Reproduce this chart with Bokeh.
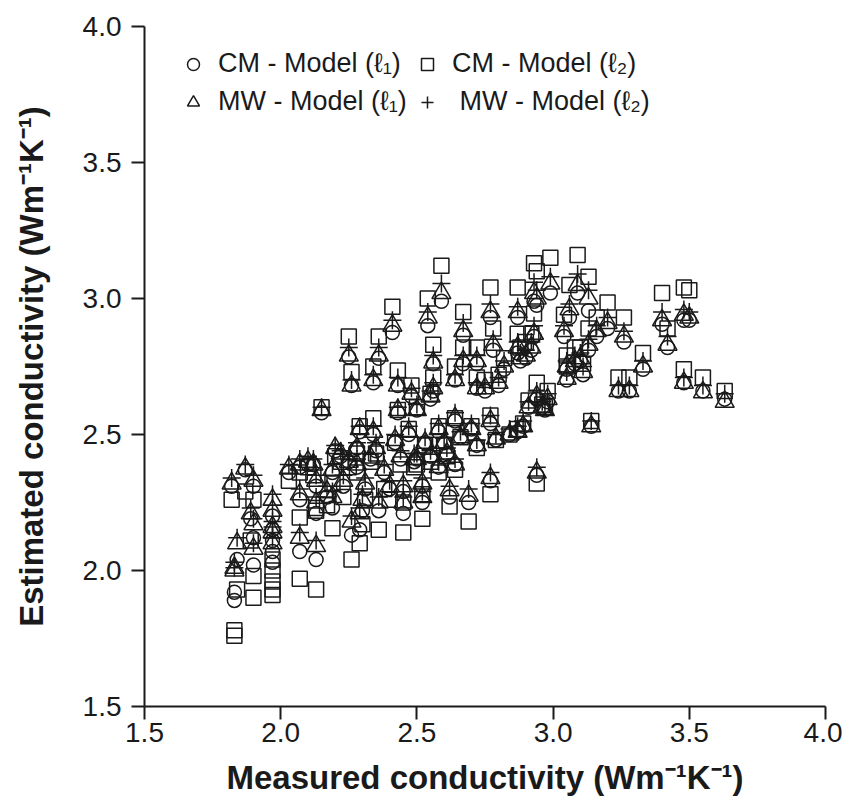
from bokeh.plotting import figure
from bokeh.models import Range1d, FixedTicker, PrintfTickFormatter, Legend, LegendItem
from bokeh.embed import file_html
from bokeh.resources import INLINE

# Measured conductivity (x) and the four model estimates per sample
measured = [1.82, 1.83, 1.83, 1.84, 1.87, 1.90, 1.89, 1.90, 1.90, 1.97, 1.97, 1.97, 1.97, 1.97,
            2.03, 2.07, 2.07, 2.13, 2.10, 2.12, 2.13, 2.13, 2.15, 2.19, 2.20, 2.22, 2.25, 2.26,
            2.26, 2.29, 2.29, 2.25, 2.28, 2.34, 2.36, 2.34, 2.36, 2.33, 2.38, 2.41, 2.43, 2.43,
            2.45, 2.44, 2.47, 2.48, 2.49, 2.45, 2.52, 2.52, 2.54, 2.56, 2.56, 2.55, 2.53, 2.58,
            2.59, 2.58, 2.60, 2.62, 2.64, 2.64, 2.64, 2.66, 2.67, 2.67, 2.69, 2.70, 2.72, 2.72,
            2.72, 2.75, 2.77, 2.77, 2.77, 2.78, 2.79, 2.80, 2.82, 2.84, 2.87, 2.87, 2.87, 2.89,
            2.90, 2.91, 2.93, 2.93, 2.94, 2.94, 2.94, 2.96, 2.98, 2.99, 2.97, 3.04, 3.05, 3.05,
            3.06, 3.08, 3.09, 3.10, 3.13, 3.13, 3.14, 3.16, 3.20, 3.24, 3.26, 3.28, 3.33, 3.40,
            3.42, 3.48, 3.50, 3.48, 3.55, 3.63, 2.19, 2.23, 2.31, 2.40, 2.50, 2.55, 2.61, 2.28,
            2.35, 2.42, 2.17, 2.07, 2.30, 2.50, 2.88, 2.92, 3.11]

cm_l1 = [2.31, 1.89, 1.92, 2.04, 2.37, 2.31, 2.19, 2.12, 2.02, 2.20, 2.15, 2.11, 2.07, 2.03,
         2.36, 2.26, 2.07, 2.04, 2.39, 2.39, 2.31, 2.21, 2.58, 2.23, 2.44, 2.42, 2.785, 2.68,
         2.13, 2.15, 2.51, 2.40, 2.38, 2.69, 2.78, 2.50, 2.22, 2.41, 2.36, 2.875, 2.68, 2.58,
         2.21, 2.41, 2.50, 2.64, 2.40, 2.29, 2.25, 2.31, 2.90, 2.76, 2.66, 2.63, 2.47, 2.51,
         2.99, 2.38, 2.47, 2.27, 2.70, 2.55, 2.39, 2.49, 2.865, 2.76, 2.25, 2.52, 2.46, 2.76,
         2.67, 2.66, 2.93, 2.54, 2.33, 2.81, 2.48, 2.68, 2.74, 2.50, 2.93, 2.80, 2.51, 2.53,
         2.78, 2.60, 2.99, 2.86, 2.975, 2.35, 2.63, 2.60, 2.62, 3.02, 2.59, 2.86, 2.70, 2.74,
         2.93, 2.76, 3.02, 2.77, 2.955, 2.81, 2.53, 2.86, 2.89, 2.66, 2.84, 2.66, 2.74, 2.905,
         2.82, 2.92, 2.92, 2.69, 2.66, 2.63, 2.36, 2.31, 2.30, 2.30, 2.41, 2.42, 2.43, 2.45,
         2.44, 2.47, 2.27, 2.38, 2.22, 2.59, 2.77, 2.81, 2.72]

cm_l2 = [2.26, 1.78, 1.76, 1.93, 2.29, 2.26, 2.11, 1.98, 1.90, 2.04, 2.00, 1.96, 1.93, 1.91,
         2.33, 2.195, 1.97, 1.93, 2.38, 2.35, 2.23, 2.22, 2.60, 2.155, 2.42, 2.40, 2.86, 2.73,
         2.04, 2.10, 2.53, 2.38, 2.36, 2.75, 2.86, 2.56, 2.15, 2.40, 2.30, 2.97, 2.735, 2.59,
         2.14, 2.39, 2.52, 2.68, 2.38, 2.25, 2.19, 2.28, 3.00, 2.83, 2.71, 2.65, 2.46, 2.53,
         3.12, 2.36, 2.46, 2.235, 2.75, 2.56, 2.37, 2.49, 2.95, 2.82, 2.18, 2.53, 2.45, 2.82,
         2.71, 2.70, 3.04, 2.57, 2.28, 2.89, 2.48, 2.72, 2.78, 2.50, 3.04, 2.87, 2.52, 2.54,
         2.84, 2.625, 3.13, 2.945, 3.10, 2.32, 2.69, 2.61, 2.66, 3.15, 2.60, 2.94, 2.75, 2.79,
         3.05, 2.82, 3.16, 2.82, 3.08, 2.89, 2.55, 2.93, 2.985, 2.71, 2.93, 2.71, 2.80, 3.02,
         2.89, 3.04, 3.03, 2.74, 2.71, 2.66, 2.32, 2.27, 2.26, 2.26, 2.39, 2.40, 2.42, 2.43,
         2.43, 2.47, 2.24, 2.36, 2.17, 2.60, 2.82, 2.87, 2.76]

mw_l1 = [2.32, 2.00, 2.01, 2.10, 2.375, 2.33, 2.21, 2.17, 2.08, 2.26, 2.22, 2.16, 2.14, 2.10,
         2.375, 2.28, 2.12, 2.09, 2.40, 2.39, 2.33, 2.25, 2.59, 2.27, 2.45, 2.43, 2.79, 2.68,
         2.18, 2.21, 2.52, 2.40, 2.39, 2.70, 2.79, 2.51, 2.25, 2.415, 2.37, 2.90, 2.68, 2.59,
         2.25, 2.42, 2.51, 2.65, 2.41, 2.31, 2.27, 2.32, 2.93, 2.765, 2.67, 2.64, 2.47, 2.52,
         3.02, 2.38, 2.47, 2.295, 2.70, 2.56, 2.39, 2.49, 2.88, 2.77, 2.275, 2.52, 2.46, 2.77,
         2.67, 2.67, 2.95, 2.55, 2.34, 2.83, 2.485, 2.69, 2.75, 2.50, 2.95, 2.82, 2.51, 2.53,
         2.79, 2.60, 3.02, 2.87, 3.00, 2.36, 2.64, 2.60, 2.63, 3.055, 2.59, 2.88, 2.705, 2.75,
         2.96, 2.77, 3.05, 2.78, 3.00, 2.83, 2.53, 2.88, 2.91, 2.66, 2.86, 2.66, 2.75, 2.92,
         2.83, 2.94, 2.93, 2.69, 2.655, 2.62, 2.37, 2.33, 2.32, 2.31, 2.41, 2.42, 2.43, 2.45,
         2.45, 2.48, 2.29, 2.39, 2.26, 2.59, 2.78, 2.82, 2.73]

mw_l2 = [2.34, 2.01, 2.03, 2.12, 2.39, 2.35, 2.23, 2.19, 2.10, 2.28, 2.24, 2.18, 2.16, 2.12,
         2.39, 2.30, 2.14, 2.11, 2.42, 2.41, 2.35, 2.27, 2.60, 2.29, 2.46, 2.44, 2.82, 2.70,
         2.20, 2.23, 2.53, 2.42, 2.41, 2.72, 2.82, 2.53, 2.27, 2.43, 2.39, 2.92, 2.71, 2.60,
         2.27, 2.44, 2.53, 2.67, 2.43, 2.33, 2.29, 2.34, 2.95, 2.79, 2.69, 2.66, 2.49, 2.54,
         3.055, 2.40, 2.49, 2.31, 2.72, 2.58, 2.41, 2.51, 2.91, 2.79, 2.30, 2.54, 2.48, 2.79,
         2.69, 2.69, 2.98, 2.57, 2.36, 2.85, 2.50, 2.71, 2.77, 2.52, 2.97, 2.84, 2.53, 2.55,
         2.81, 2.62, 3.06, 2.90, 3.03, 2.38, 2.66, 2.62, 2.65, 3.08, 2.61, 2.90, 2.73, 2.77,
         2.98, 2.79, 3.09, 2.80, 3.03, 2.85, 2.55, 2.90, 2.93, 2.68, 2.88, 2.68, 2.77, 2.95,
         2.86, 2.96, 2.95, 2.71, 2.68, 2.65, 2.39, 2.35, 2.34, 2.33, 2.43, 2.44, 2.45, 2.47,
         2.47, 2.50, 2.31, 2.41, 2.28, 2.61, 2.80, 2.84, 2.75]

x_ticks = [1.5, 2.0, 2.5, 3.0, 3.5, 4.0]
y_ticks = [1.5, 2.0, 2.5, 3.0, 3.5, 4.0]

FONT = "Liberation Sans"
INK = "#1a1a1a"

p = figure(width=842, height=800, output_backend="svg", toolbar_location=None,
           x_range=Range1d(1.5, 4.0), y_range=Range1d(1.5, 4.0),
           min_border_left=144, min_border_right=17, min_border_top=26, min_border_bottom=94)
p.outline_line_color = None
p.xgrid.visible = False
p.ygrid.visible = False
p.background_fill_color = "white"

for ax in (p.xaxis[0], p.yaxis[0]):
    ax.axis_line_width = 2
    ax.axis_line_color = INK
    ax.major_tick_line_width = 2
    ax.major_tick_line_color = INK
    ax.major_tick_in = 0
    ax.major_tick_out = 13
    ax.minor_tick_line_color = None
    ax.major_label_text_font = FONT
    ax.major_label_text_font_size = "28px"
    ax.major_label_text_color = INK
    ax.axis_label_text_font = FONT
    ax.axis_label_text_font_style = "bold"
    ax.axis_label_text_font_size = "33px"
    ax.axis_label_text_color = INK
    ax.formatter = PrintfTickFormatter(format="%.1f")

p.xaxis[0].ticker = FixedTicker(ticks=x_ticks)
p.yaxis[0].ticker = FixedTicker(ticks=y_ticks)
p.xaxis[0].axis_label = "Measured conductivity (Wm\u207b\u00b9K\u207b\u00b9)"
p.yaxis[0].axis_label = "Estimated conductivity (Wm\u207b\u00b9K\u207b\u00b9)"
p.xaxis[0].major_label_standoff = 3
p.yaxis[0].major_label_standoff = 10
p.xaxis[0].axis_label_standoff = 14
p.yaxis[0].axis_label_standoff = 30

mk = dict(fill_color=None, line_color=INK, line_width=1.5)
r_sq = p.scatter(measured, cm_l2, marker="square", size=15, **mk)
r_ci = p.scatter(measured, cm_l1, marker="circle", size=14, **mk)
r_tr = p.scatter(measured, mw_l1, marker="triangle", size=19, **mk)
r_pl = p.scatter(measured, mw_l2, marker="cross", size=18, **mk)

common = dict(border_line_color=None, background_fill_alpha=0, padding=0, spacing=7,
              glyph_width=30, glyph_height=30, label_height=30, label_standoff=10,
              label_text_font=FONT, label_text_font_size="27px", label_text_color=INK,
              orientation="vertical")
leg1 = Legend(items=[LegendItem(label="CM - Model (\u2113\u2081)", renderers=[r_ci]),
                     LegendItem(label="MW - Model (\u2113\u2081)", renderers=[r_tr])],
              location=(34, 589), **common)
leg2 = Legend(items=[LegendItem(label="CM - Model (\u2113\u2082)", renderers=[r_sq]),
                     LegendItem(label="\u00a0MW - Model (\u2113\u2082)", renderers=[r_pl])],
              location=(268, 589), **common)
p.add_layout(leg1, "center")
p.add_layout(leg2, "center")

open("out.html", "w").write(file_html(p, INLINE))
